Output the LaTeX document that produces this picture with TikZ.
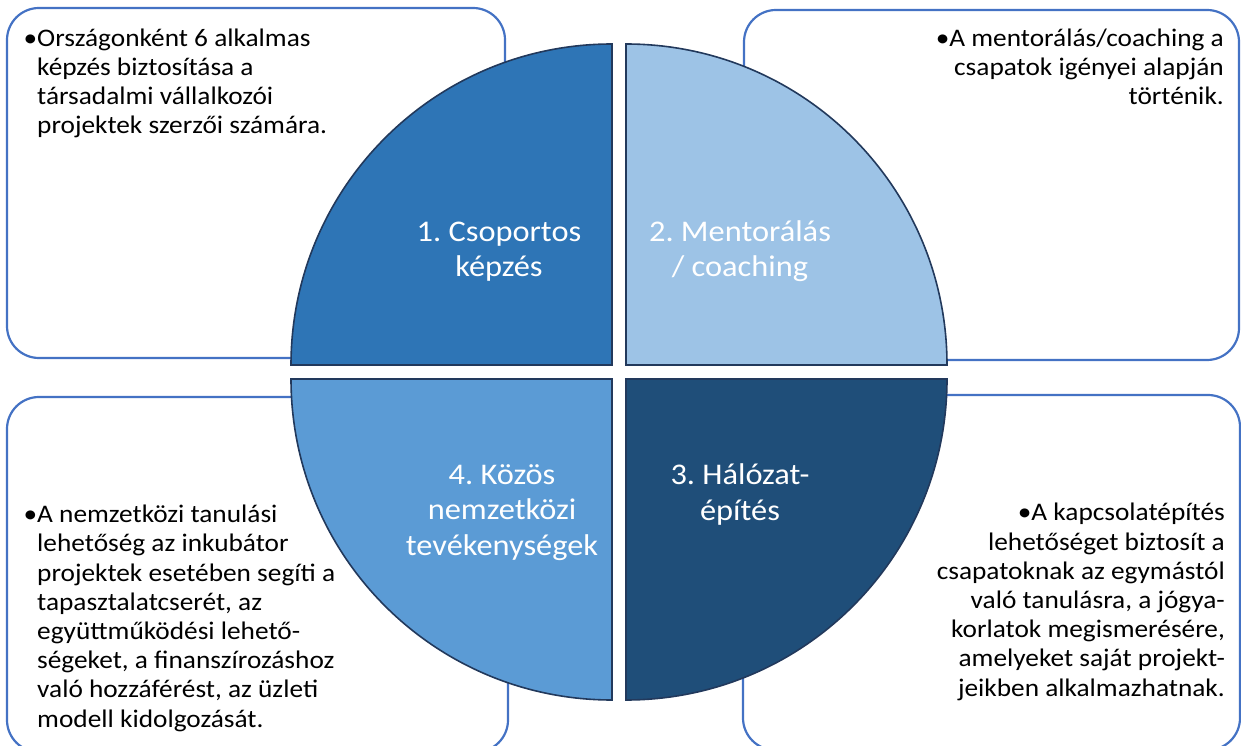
\documentclass[tikz,border=0pt]{standalone}
\usepackage{fontspec}
\setmainfont{Carlito}[FakeStretch=1.08]
\frenchspacing
\definecolor{boxline}{HTML}{4472C4}
\definecolor{secline}{HTML}{22395C}
\definecolor{sone}{HTML}{2E75B6}
\definecolor{stwo}{HTML}{9DC3E6}
\definecolor{sthree}{HTML}{1F4E79}
\definecolor{sfour}{HTML}{5B9BD5}
\tikzset{
  infobox/.style={draw=boxline, line width=2.2pt, fill=white, rounded corners=32pt},
  sector/.style={draw=secline, line width=1.6pt},
  seclabel/.style={text=white, align=center, inner sep=0pt, font=\fontsize{30}{35.5}\selectfont},
  bodyleft/.style={text=black, align=left, inner sep=0pt, font=\fontsize{25.3}{29.2}\selectfont},
  bodyright/.style={text=black, align=right, inner sep=0pt, font=\fontsize{25.3}{29.2}\selectfont}
}
\begin{document}
\begin{tikzpicture}[x=1pt,y=1pt]
\useasboundingbox (0,0) rectangle (1241,745);
% background boxes
\draw[infobox] (7,737) rectangle (505,387);
\draw[infobox] (744,735) rectangle (1239,385);
\draw[infobox] (7,348) rectangle (508,-7);
\draw[infobox] (743,350) rectangle (1240,-5);
% sectors
\draw[sector, fill=sone] (612,380) -- (291,380) arc[start angle=180, end angle=90, radius=321pt] -- cycle;
\draw[sector, fill=stwo] (626,380) -- (626,701) arc[start angle=90, end angle=0, radius=321pt] -- cycle;
\draw[sector, fill=sthree] (626,366) -- (947,366) arc[start angle=0, end angle=-90, radius=321pt] -- cycle;
\draw[sector, fill=sfour] (612,366) -- (612,45) arc[start angle=270, end angle=180, radius=321pt] -- cycle;
% sector labels (base = last line)
\node[seclabel, anchor=base] (l1) at (499,468) {1. Csoportos\\képzés};
\node[seclabel, anchor=base] (l2) at (740,468) {2. Mentorálás\\/ coaching};
\node[seclabel, anchor=base] (l3) at (740,225) {3. Hálózat-\\építés};
\node[seclabel, anchor=base] (l4) at (502,190) {4. Közös\\nemzetközi\\tevékenységek};
% body texts (base = last line)
\node[bodyleft, anchor=base west] (t1) at (37,611) {\llap{•}Országonként 6 alkalmas\\képzés biztosítása a\\társadalmi vállalkozói\\projektek szerzői számára.};
\node[bodyright, anchor=base east] (t2) at (1224,640) {•A mentorálás/coaching a\\csapatok igényei alapján\\történik.};
\node[bodyleft, anchor=base west] (t4) at (37,18) {\llap{•}A nemzetközi tanulási\\lehetőség az inkubátor\\projektek esetében segíti a\\tapasztalatcserét, az\\együttműködési lehető-\\ségeket, a finanszírozáshoz\\való hozzáférést, az üzleti\\modell kidolgozását.};
\node[bodyright, anchor=base east] (t3) at (1225,49) {•A kapcsolatépítés\\lehetőséget biztosít a\\csapatoknak az egymástól\\való tanulásra, a jógya-\\korlatok megismerésére,\\amelyeket saját projekt-\\jeikben alkalmazhatnak.};
\end{tikzpicture}
\end{document}
